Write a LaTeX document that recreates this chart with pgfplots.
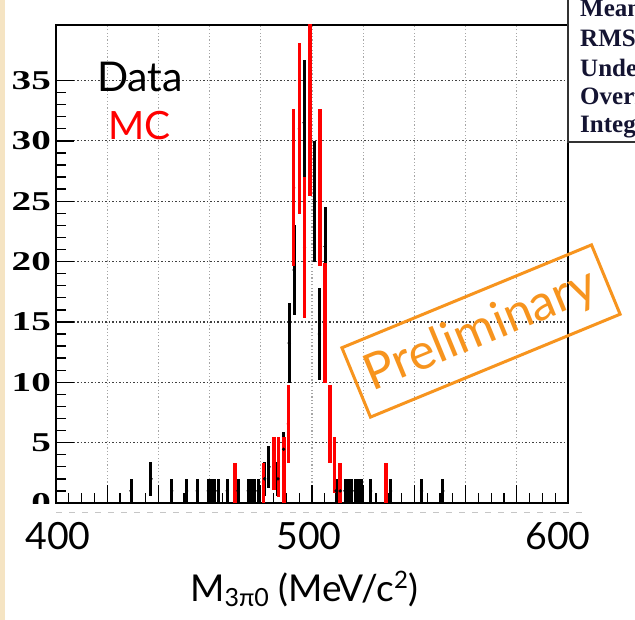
\documentclass[border=0pt]{standalone}
\usepackage{fontspec}
\setmainfont{Lato}
\newfontfamily\rootfont{Liberation Serif}
\usepackage{graphicx}
\usepackage{pgfplots}
\usepackage{pgfplotstable}
\pgfplotsset{compat=1.18}
\definecolor{prelim}{RGB}{247,148,30}
\definecolor{navy}{RGB}{20,20,50}
\definecolor{beige}{RGB}{245,228,195}

% Data (black): x, centre, symmetric error
\pgfplotstableread{
x y e
429.3 1 1
437.1 2 1.41
445.2 1 1
451.0 1 1
455.2 1 1
459.5 1 1
460.8 1 1
462.1 1 1
463.4 1 1
466.9 1 1
471.1 1 1
475.1 1 1
476.4 1 1
477.7 1 1
479.0 1 1
481.5 2 1.41
483.2 3 1.73
486.7 2 1.41
488.9 4.45 1.45
491.1 13.25 3.35
493.0 19.3 3.7
496.9 31.5 5.2
500.9 25 5
502.9 14 3.8
505.1 21.25 3.25
509.4 1 1
511.0 1 1
512.9 1 1
514.2 1 1
515.5 1 1
516.8 1 1
518.1 1 1
519.4 1 1
522.9 1 1
530.7 1 1
542.8 1 1
551.1 1 1
}\datatab

% MC (red)
\pgfplotstableread{
x y e
469.9 1.65 1.65
481.0 1.65 1.65
485.2 3.3 2.2
486.9 3.0 2.5
489.1 2.75 2.75
490.7 6.55 3.25
492.9 26.1 6.5
495.0 31.0 7.1
497.1 21.15 5.85
499.2 33.7 8.3
503.1 26.1 6.5
505.1 14.9 5.0
507.0 6.55 3.25
508.8 3.15 2.35
510.9 1.65 1.65
528.9 1.65 1.65
}\mctab

\begin{document}
\begin{tikzpicture}[x=1pt,y=1pt]
\clip (0,0) rectangle (635,620);
\fill[white] (0,0) rectangle (635,620);
\fill[beige] (0,0) rectangle (5,620);
\begin{axis}[
  at={(56pt,117pt)}, anchor=south west,
  scale only axis, width=512pt, height=478pt,
  xmin=400, xmax=600, ymin=0, ymax=39.6,
  xtick={400,420,...,600}, xticklabels={},
  ytick={0,5,...,35}, yticklabels={},
  minor x tick num=3, minor y tick num=4,
  tick pos=left,
  major tick length=18pt, minor tick length=10pt,
  tick style={black, line width=1.3pt},
  axis line style={line width=1.5pt},
  grid=major,
  major x grid style={gray!70, line width=1.2pt, dash pattern=on 1.2pt off 2.2pt},
  major y grid style={black!75, line width=1.2pt, dash pattern=on 1.5pt off 2pt},
]
\addplot[black, only marks, mark=*, mark size=1.5pt,
  error bars/.cd, y dir=both, y explicit, error mark=none,
  error bar style={line width=3pt, black}]
  table[x=x, y=y, y error=e]{\datatab};
\addplot[red, only marks, mark=*, mark size=1.4pt,
  error bars/.cd, y dir=both, y explicit, error mark=none,
  error bar style={line width=3.3pt, red}]
  table[x=x, y=y, y error=e]{\mctab};
\end{axis}
% y tick labels (bold serif, wide)
\foreach \v in {0,5,10,15,20,25,30,35}
  \node[anchor=east, inner sep=0pt, font=\rootfont\bfseries\fontsize{34}{34}\selectfont]
    at (51,{117+12.0707*\v}) {\scalebox{1.15}[0.8]{\v}};
% cover lower half of the 0 label and dashed line
\fill[white] (6,100) rectangle (54,115.5);
\draw[gray!45, line width=1pt, dash pattern=on 6pt off 7pt] (56,107) -- (587,107);
% stats box
\draw[black!80, line width=1.3pt] (568,620) -- (568,478) -- (640,478);
\begin{scope}[every node/.style={anchor=base west, inner sep=0pt, text=navy}]
\node at (580,603) {\rootfont\bfseries\fontsize{25}{25}\selectfont Mean};
\node at (580,573.5) {\rootfont\bfseries\fontsize{25}{25}\selectfont RMS};
\node at (580,543.5) {\rootfont\bfseries\fontsize{25}{25}\selectfont Underflow};
\node at (580,515) {\rootfont\bfseries\fontsize{25}{25}\selectfont Overflow};
\node at (580,487) {\rootfont\bfseries\fontsize{25}{25}\selectfont Integral};
\end{scope}
% legend texts
\node[anchor=base west, inner sep=0pt, font=\fontsize{41}{41}\selectfont] at (97,528) {Data};
\node[anchor=base west, inner sep=0pt, text=red, font=\fontsize{39}{39}\selectfont] at (108,480) {MC};
% x tick labels
\begin{scope}[every node/.style={anchor=base, inner sep=0pt, font=\fontsize{37.5}{37.5}\selectfont}]
\node at (58,70) {400};
\node at (309,70) {500};
\node at (558,70) {600};
\end{scope}
% x label
\node[anchor=base west, inner sep=0pt, font=\fontsize{37}{37}\selectfont] at (190,18)
  {M\raisebox{-5pt}{\fontsize{25}{25}\selectfont 3π0} (MeV/c\raisebox{13pt}{\fontsize{24}{24}\selectfont 2})};
% Preliminary stamp
\node[draw=prelim, line width=3pt, rotate=22.4, minimum width=270pt, minimum height=75pt,
  text=prelim, font=\fontsize{50}{50}\selectfont, inner sep=0pt] at (481,289) {Preliminary};
\end{tikzpicture}
\end{document}
